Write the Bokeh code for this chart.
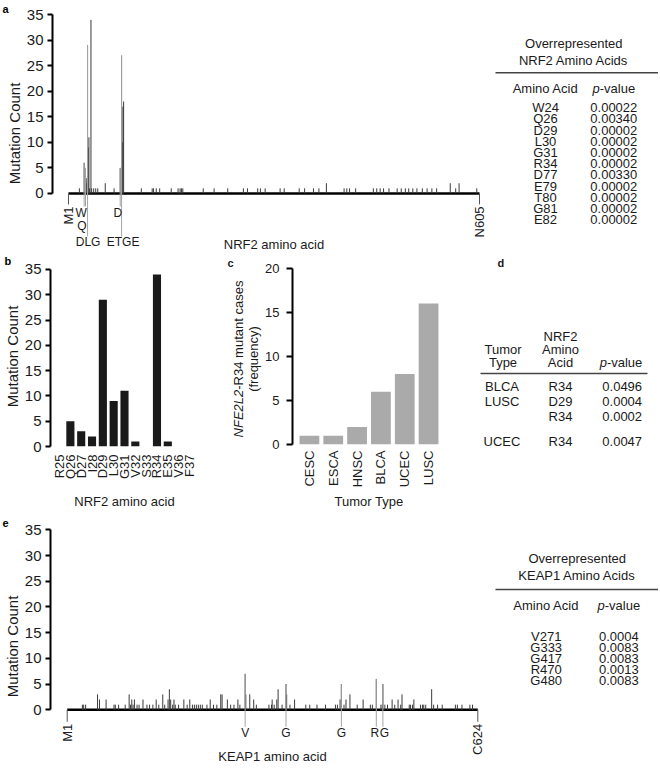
import math
from bokeh.plotting import figure
from bokeh.models import Label, FactorRange, Range1d
from bokeh.layouts import row, column
from bokeh.embed import file_html
from bokeh.resources import INLINE
from bokeh.core.properties import value

FONT = "Liberation Sans"
INK = "#1a1a1a"

# ------------------------------------------------------------------ data
count_ticks = [0, 5, 10, 15, 20, 25, 30, 35]
freq_ticks = [0, 5, 10, 15, 20]

nrf2_length = 605
nrf2_end_labels = ["M1", "N605"]
nrf2_pos = [17, 24, 26, 27, 28, 29, 30, 31, 32, 34, 35, 38, 41, 44, 55, 68,
            77, 79, 80, 81, 82, 108, 124, 126, 130, 135, 152, 162, 165, 167,
            169, 199, 215, 235, 258, 264, 279, 283, 290, 312, 318, 340, 348,
            361, 369, 380, 406, 410, 414, 423, 449, 454, 459, 464, 472, 484,
            490, 496, 501, 507, 513, 521, 528, 535, 542, 562, 570, 575, 601]
nrf2_count = [1, 6, 5, 3, 2, 29, 9, 11, 1, 34, 1, 1, 1, 1, 2, 1,
              5, 27, 10, 17, 18, 1, 1, 1, 1, 1, 1, 1, 1, 1,
              1, 1, 1, 1, 1, 1, 1, 1, 1, 1, 1, 1, 1,
              1, 1, 2, 1, 1, 1, 1, 1, 1, 1, 1, 1, 1,
              1, 1, 1, 1, 1, 1, 1, 1, 1, 2, 1, 2, 1]
nrf2_motif_labels = ["W", "Q", "DLG", "D", "ETGE"]
nrf2_motif_pos = [24, 26, 29, 77, 79]

b_residues = ["R25", "Q26", "D27", "I28", "D29", "L30", "G31", "V32", "S33",
              "R34", "E35", "V36", "F37"]
b_counts = [0, 5, 3, 2, 29, 9, 11, 1, 0, 34, 1, 0, 0]

c_tumors = ["CESC", "ESCA", "HNSC", "BLCA", "UCEC", "LUSC"]
c_cases = [1, 1, 2, 6, 8, 16]

keap1_length = 624
keap1_end_labels = ["M1", "C624"]
keap1_pos = [24, 26, 29, 47, 50, 60, 72, 74, 79, 89, 95, 97, 99, 101, 103,
             107, 110, 116, 122, 126, 131, 136, 140, 146, 149, 154, 156,
             158, 161, 163, 165, 170, 178, 183, 187, 191, 194, 197, 200,
             203, 206, 213, 218, 223, 228, 234, 236, 244, 249, 254, 260,
             263, 271, 272, 278, 284, 288, 307, 311, 312, 315, 319, 321,
             327, 333, 334, 339, 346, 363, 369, 380, 393, 408, 411, 415,
             417, 421, 424, 430, 441, 450, 461, 464, 470, 477, 479, 480,
             483, 487, 494, 498, 503, 507, 509, 520, 522, 525, 527, 537,
             540, 542, 545, 554, 557, 563, 570, 590, 593, 600, 612, 616]
keap1_count = [1, 1, 1, 3, 2, 2, 1, 1, 1, 1, 3, 1, 2, 1, 2,
               1, 1, 2, 1, 1, 1, 2, 1, 3, 1, 2, 4,
               2, 1, 2, 1, 1, 2, 1, 2, 1, 1, 1, 1,
               1, 1, 1, 2, 1, 1, 3, 3, 2, 1, 1, 2,
               1, 7, 3, 3, 2, 1, 1, 1, 2, 1, 2, 4,
               1, 5, 3, 1, 2, 1, 1, 1, 1, 1, 1, 2,
               5, 1, 2, 3, 1, 2, 1, 1, 6, 1, 1, 5,
               1, 1, 2, 1, 2, 1, 3, 1, 1, 1, 2, 1,
               1, 1, 1, 4, 1, 1, 1, 1, 1, 1, 1, 1]
keap1_motif_labels = ["V", "G", "G", "R", "G"]
keap1_motif_pos = [271, 333, 417, 470, 480]

table_a_title = ["Overrepresented", "NRF2 Amino Acids"]
table_a_residues = ["W24", "Q26", "D29", "L30", "G31", "R34", "D77", "E79",
                    "T80", "G81", "E82"]
table_a_pvalues = ["0.00022", "0.00340", "0.00002", "0.00002", "0.00002",
                   "0.00002", "0.00330", "0.00002", "0.00002", "0.00002",
                   "0.00002"]

table_d_tumor = ["BLCA", "LUSC", "", "UCEC"]
table_d_residue = ["R34", "D29", "R34", "R34"]
table_d_pvalue = ["0.0496", "0.0004", "0.0002", "0.0047"]

table_e_title = ["Overrepresented", "KEAP1 Amino Acids"]
table_e_residues = ["V271", "G333", "G417", "R470", "G480"]
table_e_pvalues = ["0.0004", "0.0083", "0.0083", "0.0013", "0.0083"]

# ------------------------------------------------------------------ helpers
ARIAL = {" ": 278, "-": 333, "(": 333, ")": 333, ".": 278,
         "C": 722, "E": 667, "F": 611, "L": 556, "N": 722, "R": 722,
         "a": 556, "c": 500, "e": 556, "l": 222, "m": 833, "n": 556,
         "p": 556, "s": 500, "t": 278, "u": 556, "v": 500}


def em(text):
    return sum(ARIAL.get(ch, 556) for ch in text) / 1000.0


def no_align(p):
    # keep each figure's frame where its own borders put it
    try:
        p.frame_align = False
    except Exception:
        pass
    return p


def style_count_axis(ax, ticks, tick_fs, label, label_fs):
    ax.ticker = ticks
    ax.bounds = (ticks[0], ticks[-1])
    ax.axis_line_width = 2
    ax.axis_line_color = "black"
    ax.major_tick_line_width = 2
    ax.major_tick_line_color = "black"
    ax.major_tick_out = 5
    ax.major_tick_in = 0
    ax.minor_tick_line_color = None
    ax.major_label_text_font = FONT
    ax.major_label_text_font_size = tick_fs
    ax.major_label_text_color = INK
    ax.major_label_standoff = 4
    if label:
        ax.axis_label = label
        ax.axis_label_text_font = FONT
        ax.axis_label_text_font_size = label_fs
        ax.axis_label_text_font_style = "normal"
        ax.axis_label_text_color = INK
        ax.axis_label_standoff = 1


def style_cat_axis(ax, label, fs, standoff, label_standoff):
    ax.axis_line_color = None
    ax.major_tick_line_color = None
    ax.minor_tick_line_color = None
    ax.major_tick_out = 0
    ax.minor_tick_out = 0
    ax.major_label_orientation = math.pi / 2
    ax.major_label_standoff = standoff
    ax.major_label_text_font = FONT
    ax.major_label_text_font_size = fs
    ax.major_label_text_color = INK
    ax.axis_label = label
    ax.axis_label_text_font = FONT
    ax.axis_label_text_font_size = fs
    ax.axis_label_text_font_style = "normal"
    ax.axis_label_text_color = INK
    ax.axis_label_standoff = label_standoff


def panel_tag(p, text, offset):
    # panel letter drawn in the title band, shifted left of the frame
    p.title.text = text
    p.title.align = "left"
    p.title.offset = offset
    p.title.standoff = 0
    p.title.vertical_align = "bottom"
    p.title.text_font = FONT
    p.title.text_font_size = "11px"
    p.title.text_font_style = "bold"
    p.title.text_color = "black"


def lollipop(W, H, L, T, m1_px, end_px, y35_px, zero_px, length, pos, cnt,
             end_labels, end_tick, motif_labels, motif_pos, motif_depth,
             motif_line, motif_dx, xlabel, xlabel_y, tag, tag_offset):
    frame_w, frame_h = W - L, H - T
    ppa = (end_px - m1_px) / (length - 1)
    ppu = (zero_px - y35_px) / 35.0
    x0 = 1 - m1_px / ppa
    x1 = 1 + (frame_w - m1_px) / ppa
    y1 = 35 + y35_px / ppu
    y0 = -(frame_h - zero_px) / ppu
    p = figure(width=W, height=H, x_range=Range1d(x0, x1),
               y_range=Range1d(y0, y1), output_backend="svg",
               toolbar_location=None, x_axis_location=None,
               min_border_left=L, min_border_right=0, min_border_top=T,
               min_border_bottom=0)
    no_align(p)
    p.outline_line_color = None
    p.grid.grid_line_color = None

    # protein backbone
    p.segment(x0=[1], y0=[0], x1=[length], y1=[0], line_color="black",
              line_width=2.5)
    # end ticks and labels
    ends = [1, length]
    p.segment(x0=ends, y0=[0, 0], x1=ends, y1=[-end_tick / ppu] * 2,
              line_color="#555555", line_width=1)
    p.text(x=ends, y=[-end_tick / ppu] * 2, text=end_labels, angle=math.pi / 2,
           y_offset=2, text_align="right", text_baseline="middle",
           text_font=value(FONT), text_font_size="13px", text_color=INK)
    # mutation counts
    p.segment(x0=pos, y0=[0] * len(pos), x1=pos, y1=cnt,
              line_color="#3a3a3a", line_width=1)
    cmap = dict(zip(pos, cnt))
    mtop = [cmap.get(m, 0) for m in motif_pos]
    mbot = [-d / ppu for d in motif_line]
    p.segment(x0=motif_pos, y0=mtop, x1=motif_pos, y1=mbot,
              line_color="#a5a5a5", line_width=1)
    p.text(x=motif_pos, y=[0] * len(motif_pos), text=motif_labels,
           x_offset=motif_dx, y_offset=motif_depth, text_align="center",
           text_baseline="middle", text_font=value(FONT),
           text_font_size="12px", text_color=INK)

    style_count_axis(p.yaxis[0], count_ticks, "15px", "Mutation Count", "15px")
    p.add_layout(Label(x=(1 + length) / 2.0, y=xlabel_y, x_units="data",
                       y_units="screen", text=xlabel, text_font=FONT,
                       text_font_size="13px", text_color=INK,
                       text_align="center", text_baseline="middle"))
    panel_tag(p, tag, tag_offset)
    return p


def text_fig(W, H, flip=True):
    yr = Range1d(H, 0) if flip else Range1d(0, H)
    p = figure(width=W, height=H, x_range=Range1d(0, W), y_range=yr,
               title=None, output_backend="svg", toolbar_location=None,
               x_axis_location=None, y_axis_location=None, min_border=0)
    no_align(p)
    p.outline_line_color = None
    p.grid.grid_line_color = None
    return p


def put(p, xs, ys, texts, align="center", style="normal", fs=13, angle=0.0):
    p.text(x=xs, y=ys, text=texts, text_align=align, text_baseline="middle",
           angle=angle, text_font=value(FONT), text_font_size="%dpx" % fs,
           text_font_style=style, text_color=INK)


def put_pvalue(p, xc, y, fs=13):
    wp, wr = em("p") * fs, em("-value") * fs
    start = xc - (wp + wr) / 2.0
    put(p, [start], [y], ["p"], align="left", style="italic", fs=fs)
    put(p, [start + wp], [y], ["-value"], align="left", fs=fs)


def rule(p, x0, x1, y):
    p.segment(x0=[x0], y0=[y], x1=[x1], y1=[y], line_color="#444444",
              line_width=1.5)


# ------------------------------------------------------------------ row 1
H1 = 252
fig_a = lollipop(W=488, H=H1, L=52, T=13, m1_px=16, end_px=427, y35_px=0.3,
                 zero_px=179.7, length=nrf2_length, pos=nrf2_pos,
                 cnt=nrf2_count, end_labels=nrf2_end_labels, end_tick=11,
                 motif_labels=nrf2_motif_labels, motif_pos=nrf2_motif_pos,
                 motif_depth=[20, 33, 49, 20, 49],
                 motif_line=[13, 13, 43, 13, 43],
                 motif_dx=[-3, -3.5, 0.5, -2.5, 1.5],
                 xlabel="NRF2 amino acid", xlabel_y=H1 - 244, tag="a",
                 tag_offset=-50)

tab_a = text_fig(170, H1)
put(tab_a, [85.3, 85.3], [42.7, 60], table_a_title)
rule(tab_a, 7, 170, 72.3)
put(tab_a, [57], [88.3], ["Amino Acid"])
put_pvalue(tab_a, 125.3, 88.3)
ya = [107.3 + 11.19 * i for i in range(len(table_a_residues))]
put(tab_a, [57] * len(ya), ya, table_a_residues)
put(tab_a, [125.3] * len(ya), ya, table_a_pvalues)

# ------------------------------------------------------------------ row 2
H2 = 260
TOP2 = H1
fig_b = figure(width=200, height=H2,
               x_range=FactorRange(factors=b_residues, range_padding=0.336,
                                   range_padding_units="absolute"),
               y_range=Range1d(0, 35.58), output_backend="svg",
               toolbar_location=None, min_border_left=48, min_border_right=2,
               min_border_top=13, min_border_bottom=63)
no_align(fig_b)
fig_b.outline_line_color = None
fig_b.grid.grid_line_color = None
fig_b.vbar(x=b_residues, top=b_counts, width=0.75, fill_color="#1a1a1a",
           line_color=None)
style_count_axis(fig_b.yaxis[0], count_ticks, "15px", "Mutation Count", "15px")
style_cat_axis(fig_b.xaxis[0], "NRF2 amino acid", "13px", 8, 12)
panel_tag(fig_b, "b", -46)

# y label + letter of panel c (separate text strip left of the chart)
c_lab = text_fig(62, H2, flip=False)
fs_c = 13
w1, w2 = em("NFE2L2") * fs_c, em("-R34 mutant cases") * fs_c
yc = TOP2 + H2 - 358.5
ystart = yc - (w1 + w2) / 2.0
put(c_lab, [38], [ystart + w1 / 2.0], ["NFE2L2"], style="italic",
    angle=math.pi / 2)
put(c_lab, [38], [ystart + w1 + w2 / 2.0], ["-R34 mutant cases"],
    angle=math.pi / 2)
put(c_lab, [53.3], [yc], ["(frequency)"], angle=math.pi / 2)
put(c_lab, [27], [TOP2 + H2 - 262], ["c"], align="left", style="bold", fs=11)

fig_c = figure(width=208, height=H2,
               x_range=FactorRange(factors=c_tumors, range_padding=0.21,
                                   range_padding_units="absolute"),
               y_range=Range1d(0, 20.33), title=None, output_backend="svg",
               toolbar_location=None, min_border_left=28, min_border_right=25,
               min_border_top=13, min_border_bottom=63)
no_align(fig_c)
fig_c.outline_line_color = None
fig_c.grid.grid_line_color = None
fig_c.vbar(x=c_tumors, top=c_cases, width=0.83, fill_color="#aaaaaa",
           line_color=None)
style_count_axis(fig_c.yaxis[0], freq_ticks, "13px", None, None)
fig_c.yaxis[0].major_tick_out = 6
fig_c.yaxis[0].major_label_standoff = 7
style_cat_axis(fig_c.xaxis[0], "Tumor Type", "13px", 6, 4)

tab_d = text_fig(188, H2)
put(tab_d, [27], [10], ["d"], align="left", style="bold", fs=11)
put(tab_d, [90, 90, 90], [84, 97, 110], ["NRF2", "Amino", "Acid"])
put(tab_d, [32.5, 32.5], [97, 110], ["Tumor", "Type"])
put_pvalue(tab_d, 150.5, 110)
rule(tab_d, 10, 177, 121)
yd = [134, 149, 164, 189]
put(tab_d, [31.5] * 4, yd, table_d_tumor)
put(tab_d, [90] * 4, yd, table_d_residue)
put(tab_d, [151.7] * 4, yd, table_d_pvalue)

# ------------------------------------------------------------------ row 3
H3 = 254
fig_e = lollipop(W=488, H=H3, L=50, T=14, m1_px=16.7, end_px=427.3,
                 y35_px=3.3, zero_px=183.3, length=keap1_length,
                 pos=keap1_pos, cnt=keap1_count,
                 end_labels=keap1_end_labels, end_tick=12,
                 motif_labels=keap1_motif_labels, motif_pos=keap1_motif_pos,
                 motif_depth=[23] * 5, motif_line=[17] * 5,
                 motif_dx=[0, 0, 0, -1.5, 1.5],
                 xlabel="KEAP1 amino acid", xlabel_y=10, tag="e",
                 tag_offset=-48)

tab_e = text_fig(170, H3)
put(tab_e, [88.7, 88.7], [46.3, 63], table_e_title)
rule(tab_e, 7, 170, 77)
put(tab_e, [57.7], [93], ["Amino Acid"])
put_pvalue(tab_e, 130.3, 93)
ye = [123.7 + 11 * i for i in range(len(table_e_residues))]
put(tab_e, [57.7] * len(ye), ye, table_e_residues)
put(tab_e, [130.3] * len(ye), ye, table_e_pvalues)

layout = column(row(fig_a, tab_a), row(fig_b, c_lab, fig_c, tab_d),
                row(fig_e, tab_e))
open("out.html", "w").write(file_html(layout, INLINE))
